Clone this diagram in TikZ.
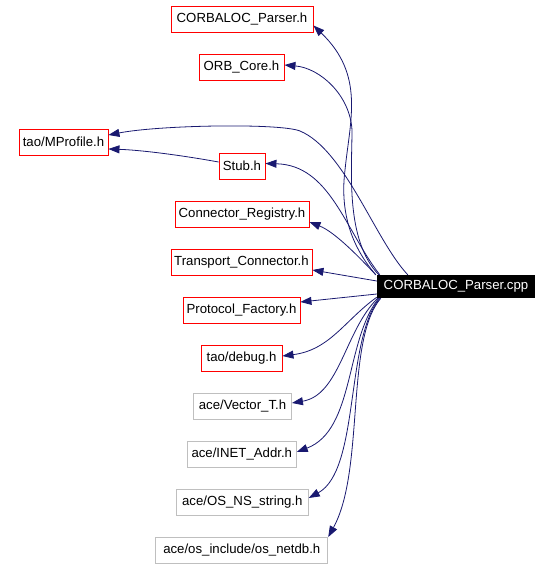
\documentclass[tikz,border=0pt]{standalone}
\usepackage{fontspec}
\setmainfont{Liberation Sans}
\usetikzlibrary{arrows.meta}
\definecolor{edgeblue}{HTML}{191970}
\definecolor{boxred}{HTML}{FF0000}
\definecolor{boxgray}{HTML}{BFBFBF}
\tikzset{
  file/.style={draw=boxred, line width=0.9pt, minimum height=26pt, inner sep=0pt, font=\fontsize{13.2}{15}\selectfont},
  sysfile/.style={file, draw=boxgray},
  mainfile/.style={fill=black, text=white, minimum height=23pt, minimum width=158pt, inner sep=0pt, font=\fontsize{13.2}{15}\selectfont},
  edge/.style={draw=edgeblue, line width=0.8pt, -{Triangle[length=11pt,width=8pt]}}
}
\begin{document}
\begin{tikzpicture}[x=1pt,y=-1pt]
\useasboundingbox (0,0) rectangle (552,568);
\node[mainfile] (cpp) at (456,286.5) {CORBALOC\_Parser.cpp};
\node[file, minimum width=142pt] (cph) at (242,19.5) {CORBALOC\_Parser.h};
\node[file, minimum width=85pt] (orb) at (241.5,67.5) {ORB\_Core.h};
\node[file, minimum width=89pt] (mp) at (63.5,142) {tao/MProfile.h};
\node[file, minimum width=46pt] (stub) at (242,166) {Stub.h};
\node[file, minimum width=134pt] (cr) at (242,214) {Connector\_Registry.h};
\node[file, minimum width=141pt] (tc) at (241.5,262.5) {Transport\_Connector.h};
\node[file, minimum width=117pt] (pf) at (241.5,310) {Protocol\_Factory.h};
\node[file, minimum width=81pt] (dbg) at (241.5,358) {tao/debug.h};
\node[sysfile, minimum width=98pt] (vec) at (242.5,406) {ace/Vector\_T.h};
\node[sysfile, minimum width=109pt] (inet) at (241.8,454) {ace/INET\_Addr.h};
\node[sysfile, minimum width=132pt] (osns) at (242.3,502) {ace/OS\_NS\_string.h};
\node[sysfile, minimum width=172pt] (netdb) at (241.8,550.5) {ace/os\_include/os\_netdb.h};

\draw[edge] ([xshift=-1pt]cpp.north west) .. controls (350,245) and (340,210) .. (345,170) .. controls (350,120) and (365,75) .. ([yshift=-6pt]cph.east);
\draw[edge] ([xshift=2pt]cpp.north west) .. controls (345,240) and (352,170) .. (352,130) .. controls (350,95) and (320,68) .. ([yshift=2.5pt]orb.east);
\draw[edge] ([xshift=31pt]cpp.north west) .. controls (375,240) and (345,150) .. (300,131) .. controls (280,123) and (160,125) .. ([yshift=7pt]mp.east);
\draw[edge] ([yshift=4pt]stub.west) .. controls (180,155) and (140,150) .. ([yshift=-7pt]mp.east);
\draw[edge] ([xshift=3pt]cpp.north west) .. controls (345,230) and (330,165) .. ([yshift=2.5pt]stub.east);
\draw[edge] ([xshift=-1pt]cpp.north west) .. controls (360,258) and (335,232) .. ([yshift=-8pt]cr.east);
\draw[edge] ([yshift=5.5pt]cpp.west) -- ([yshift=-7.5pt]tc.east);
\draw[edge] ([yshift=-7.5pt]cpp.west) -- ([yshift=8pt]pf.east);
\draw[edge] ([yshift=1pt]cpp.south west) .. controls (345,320) and (330,350) .. ([yshift=2pt]dbg.east);
\draw[edge] ([xshift=1pt]cpp.south west) .. controls (345,330) and (340,395) .. ([yshift=3pt]vec.east);
\draw[edge] ([xshift=2pt]cpp.south west) .. controls (345,340) and (355,430) .. ([yshift=2pt]inet.east);
\draw[edge] ([xshift=3pt]cpp.south west) .. controls (345,340) and (360,470) .. ([yshift=4pt]osns.east);
\draw[edge] ([xshift=4pt]cpp.south west) .. controls (345,340) and (365,470) .. (netdb.north east);
\end{tikzpicture}
\end{document}
